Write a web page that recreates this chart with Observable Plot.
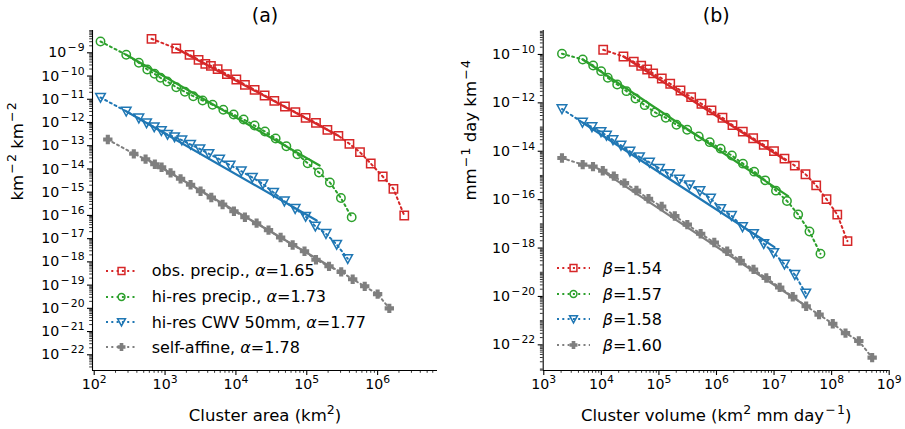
<!DOCTYPE html>
<html><head><meta charset="utf-8">
<script src="https://cdn.jsdelivr.net/npm/d3@7"></script>
<script src="https://cdn.jsdelivr.net/npm/@observablehq/plot@0.6"></script>
<style>
body{margin:0;background:#fff;}
#wrap{position:relative;width:905px;height:429px;font-family:"DejaVu Sans",sans-serif;color:#000;}
.lrow{position:absolute;display:flex;align-items:center;height:20px;white-space:nowrap;font-size:16px;}
</style></head><body><div id="wrap"></div>
<script>
// ---------- DATA (log10 of the values) ----------
const seriesNames = ["obs. precip.", "hi-res precip.", "hi-res CWV 50mm", "self-affine"];
const alphaValues = ["1.65", "1.73", "1.77", "1.78"];
const betaValues  = ["1.54", "1.57", "1.58", "1.60"];

// Panel (a): cluster area (km²) -> log10, density (km⁻² km⁻²) -> log10
const obsAreaLog   = [2.809,3.158,3.346,3.473,3.568,3.647,3.742,3.873,4.006,4.127,4.264,4.405,4.542,4.692,4.839,4.984,5.130,5.291,5.446,5.602,5.751,5.903,6.072,6.223,6.376];
const obsDensLog   = [-8.397,-8.815,-9.086,-9.301,-9.474,-9.560,-9.706,-9.921,-10.149,-10.378,-10.593,-10.838,-11.066,-11.312,-11.557,-11.798,-12.013,-12.315,-12.573,-12.917,-13.279,-13.765,-14.325,-14.854,-16.004];
const hiresAreaLog = [2.089,2.452,2.630,2.749,2.852,2.936,3.031,3.158,3.280,3.398,3.530,3.671,3.822,3.968,4.109,4.264,4.410,4.561,4.712,4.867,5.013,5.172,5.326,5.482,5.634];
const hiresDensLog = [-8.514,-9.086,-9.430,-9.719,-9.904,-10.076,-10.235,-10.481,-10.679,-10.868,-11.053,-11.239,-11.454,-11.656,-11.871,-12.130,-12.388,-12.689,-13.021,-13.365,-13.752,-14.153,-14.583,-15.251,-16.077];
const cwvAreaLog   = [2.089,2.452,2.630,2.739,2.847,2.948,3.035,3.134,3.237,3.360,3.492,3.619,3.770,3.918,4.076,4.232,4.381,4.532,4.684,4.836,4.984,5.121,5.271,5.422,5.578];
const cwvDensLog   = [-10.924,-11.518,-11.815,-12.022,-12.194,-12.358,-12.517,-12.625,-12.762,-12.947,-13.141,-13.348,-13.585,-13.839,-14.097,-14.368,-14.648,-15.014,-15.388,-15.711,-16.047,-16.465,-16.787,-17.252,-17.864];
const selfAreaLog  = [2.192,2.559,2.725,2.856,2.951,3.078,3.219,3.360,3.501,3.653,3.812,3.972,4.127,4.292,4.460,4.631,4.801,4.968,5.130,5.314,5.486,5.648,5.818,6.000,6.165];
const selfDensLog  = [-12.732,-13.348,-13.580,-13.796,-13.925,-14.166,-14.424,-14.682,-14.958,-15.229,-15.530,-15.819,-16.077,-16.335,-16.632,-16.951,-17.274,-17.541,-17.907,-18.191,-18.428,-18.750,-19.052,-19.387,-20.000];
// fitted power laws, panel (a): start/end (log10)
const fitX0A = [3.158, 2.452, 2.456, 2.725];
const fitY0A = [-8.815, -9.086, -11.527, -13.550];
const fitX1A = [5.446, 5.182, 5.140, 5.380];
const fitY1A = [-12.573, -13.851, -16.219, -18.285];

// Panel (b): cluster volume (km² mm day⁻¹) -> log10, density (mm⁻¹ day km⁻⁴) -> log10
const obsVolLog    = [4.032,4.384,4.563,4.692,4.796,4.900,5.050,5.196,5.375,5.560,5.739,5.913,6.104,6.278,6.457,6.637,6.821,6.999,7.181,7.360,7.546,7.732,7.911,8.098,8.275];
const obsVDensLog  = [-9.806,-10.083,-10.302,-10.467,-10.620,-10.785,-10.992,-11.211,-11.488,-11.764,-12.037,-12.314,-12.616,-12.921,-13.190,-13.463,-13.736,-13.996,-14.306,-14.595,-14.950,-15.413,-15.979,-16.620,-17.715];
const hiresVolLog  = [3.316,3.677,3.858,3.997,4.112,4.275,4.437,4.593,4.754,4.935,5.119,5.305,5.491,5.692,5.883,6.073,6.267,6.460,6.655,6.846,7.033,7.224,7.419,7.615,7.806];
const hiresVDensLog= [-9.971,-10.207,-10.455,-10.690,-10.963,-11.240,-11.517,-11.818,-12.095,-12.397,-12.616,-12.905,-13.112,-13.388,-13.624,-13.893,-14.178,-14.512,-14.843,-15.202,-15.628,-16.054,-16.612,-17.314,-18.236];
const cwvVolLog    = [3.316,3.672,3.837,3.994,4.089,4.202,4.341,4.497,4.662,4.836,5.010,5.183,5.357,5.531,5.713,5.896,6.073,6.260,6.452,6.643,6.821,6.995,7.181,7.360,7.551];
const cwvVDensLog  = [-12.252,-12.810,-12.996,-13.202,-13.347,-13.533,-13.760,-14.008,-14.236,-14.463,-14.711,-14.938,-15.165,-15.393,-15.640,-15.950,-16.376,-16.661,-17.128,-17.409,-17.822,-18.194,-18.669,-19.099,-19.868];
const selfVolLog   = [3.316,3.676,3.855,4.025,4.216,4.402,4.610,4.819,5.048,5.276,5.493,5.725,5.962,6.186,6.412,6.643,6.865,7.098,7.325,7.558,7.782,8.020,8.241,8.472,8.704];
const selfVDensLog = [-14.277,-14.554,-14.636,-14.806,-15.029,-15.318,-15.620,-15.963,-16.281,-16.674,-17.033,-17.409,-17.769,-18.132,-18.525,-18.884,-19.236,-19.628,-20.012,-20.405,-20.752,-21.128,-21.517,-21.839,-22.529];
const fitX0B = [4.384, 3.677, 3.672, 4.020];
const fitY0B = [-10.083, -10.207, -12.810, -14.822];
const fitX1B = [7.198, 7.245, 7.007, 7.558];
const fitY1B = [-14.368, -15.855, -17.963, -20.401];

// axis ticks (exponents) and domains (log10)
const xTickExpA = [2, 3, 4, 5, 6];
const yTickExpA = [-9,-10,-11,-12,-13,-14,-15,-16,-17,-18,-19,-20,-21,-22];
const xTickExpB = [3, 4, 5, 6, 7, 8, 9];
const yTickExpB = [-10,-12,-14,-16,-18,-20,-22];
const xDomLogA = [1.976, 6.845], yDomLogA = [-22.676, -8.04];
const xDomLogB = [2.99, 9.0],    yDomLogB = [-23.06, -9.01];

// ---------- STYLE ----------
const colors = ["#d62728", "#2ca02c", "#1f77b4", "#7f7f7f"];
const triDown = { draw(ctx, size) { const r = Math.sqrt(size / Math.PI); const w = r * 1.12, h = r * 0.95;
  ctx.moveTo(-w, -h); ctx.lineTo(w, -h); ctx.lineTo(0, h * 1.15); ctx.closePath(); } };
const symbols = ["square", "circle", triDown, "cross"];
const radii = [4.7, 4.2, 4.3, 3.3];
const fills = ["none", "none", "none", colors[3]];

const supMap = {"0":"⁰","1":"¹","2":"²","3":"³","4":"⁴","5":"⁵","6":"⁶","7":"⁷","8":"⁸","9":"⁹","-":"⁻"};
const unsupMap = Object.fromEntries(Object.entries(supMap).map(([k, v]) => [v, k === "-" ? "−" : k]));
const powLabel = v => "10" + String(Math.round(Math.log10(v))).split("").map(c => supMap[c]).join("");

function table(xs, ys) { return xs.map((x, i) => ({x: 10 ** x, y: 10 ** ys[i]})); }
function minorTicks(dom, majorExp) {
  const out = [];
  for (let e = Math.floor(Math.log10(dom[0])); e <= Math.ceil(Math.log10(dom[1])); e++)
    for (let m = 1; m < 10; m++) {
      if (m === 1 && majorExp.includes(e)) continue;
      const v = m * Math.pow(10, e);
      if (v >= dom[0] && v <= dom[1]) out.push(v);
    }
  return out;
}

// render Unicode superscript runs as raised, smaller tspans (like mathtext)
function superscriptify(root) {
  const NS = "http://www.w3.org/2000/svg";
  root.querySelectorAll("text").forEach(t => {
    const s = t.textContent;
    if (![...s].some(c => c in unsupMap)) return;
    const fs = parseFloat(getComputedStyle(t).fontSize) || 14;
    const shift = +(fs * 0.42).toFixed(2);
    const supFs = (fs * 0.76).toFixed(2);
    const runs = [];
    for (const c of s) {
      const isSup = c in unsupMap;
      const ch = isSup ? unsupMap[c] : c;
      if (runs.length && runs[runs.length - 1].sup === isSup) runs[runs.length - 1].text += ch;
      else runs.push({sup: isSup, text: ch});
    }
    t.textContent = "";
    let raised = false;
    runs.forEach(r => {
      const parts = r.sup && r.text.startsWith("−") ? ["−", r.text.slice(1)] : [r.text];
      parts.forEach((p, k) => {
        if (!p) return;
        const ts = document.createElementNS(NS, "tspan");
        if (r.sup) {
          ts.setAttribute("font-size", supFs);
          if (k === 0) ts.setAttribute("dy", -shift);
          if (parts.length > 1) ts.setAttribute("dx", k === 0 ? 1.2 : 1.2);
          raised = true;
        } else if (raised) { ts.setAttribute("dy", shift); raised = false; }
        ts.textContent = p;
        t.appendChild(ts);
      });
    });
  });
}

function panel({series, fits, xTickExp, yTickExp, xDomLog, yDomLog, title, xLabel, yLabel, yLabelDx, width, marginLeft, marginRight}) {
  const xDom = xDomLog.map(v => 10 ** v), yDom = yDomLog.map(v => 10 ** v);
  const marks = [
    Plot.axisX({ticks: minorTicks(xDom, xTickExp), tickFormat: () => "", tickSize: 2.8, strokeWidth: 0.8, label: null}),
    Plot.axisY({ticks: minorTicks(yDom, yTickExp), tickFormat: () => "", tickSize: 2.8, strokeWidth: 0.8, label: null}),
    Plot.axisX({ticks: xTickExp.map(e => 10 ** e), tickFormat: powLabel, tickSize: 5, tickPadding: 3, strokeWidth: 1.1, fontSize: 14.2, label: null}),
    Plot.axisY({ticks: yTickExp.map(e => 10 ** e), tickFormat: powLabel, tickSize: 5, tickPadding: 3, strokeWidth: 1.1, fontSize: 14.2, label: null}),
    Plot.ruleX([xDom[0]], {stroke: "#000", strokeWidth: 1.1}),
    Plot.ruleY([yDom[0]], {stroke: "#000", strokeWidth: 1.1})
  ];
  series.forEach((data, i) => {
    marks.push(Plot.line(data, {x: "x", y: "y", stroke: colors[i], strokeWidth: 2, strokeDasharray: "2,3.3"}));
    marks.push(Plot.dot(data, {x: "x", y: "y", symbol: symbols[i], r: radii[i], stroke: colors[i], fill: fills[i], strokeWidth: 1.5}));
  });
  fits.forEach((data, i) => {
    marks.push(Plot.line(data, {x: "x", y: "y", stroke: colors[i], strokeWidth: 2.2}));
  });
  marks.push(Plot.text([title], {text: d => d, frameAnchor: "top", dy: -15, fontSize: 19, lineAnchor: "middle"}));
  marks.push(Plot.text([xLabel], {text: d => d, frameAnchor: "bottom", dy: 45, fontSize: 16.5, lineAnchor: "middle"}));
  marks.push(Plot.text([yLabel], {text: d => d, frameAnchor: "left", dx: yLabelDx, rotate: -90, fontSize: 16.5, lineAnchor: "middle"}));
  return Plot.plot({
    width, height: 429, marginTop: 30, marginBottom: 59, marginLeft, marginRight,
    style: {fontFamily: "DejaVu Sans", fontSize: "14px", color: "#000", background: "transparent", overflow: "visible"},
    x: {type: "log", domain: xDom},
    y: {type: "log", domain: yDom},
    marks
  });
}

const seriesA = [table(obsAreaLog, obsDensLog), table(hiresAreaLog, hiresDensLog), table(cwvAreaLog, cwvDensLog), table(selfAreaLog, selfDensLog)];
const fitsA = fitX0A.map((x0, i) => [{x: 10 ** x0, y: 10 ** fitY0A[i]}, {x: 10 ** fitX1A[i], y: 10 ** fitY1A[i]}]);
const seriesB = [table(obsVolLog, obsVDensLog), table(hiresVolLog, hiresVDensLog), table(cwvVolLog, cwvVDensLog), table(selfVolLog, selfVDensLog)];
const fitsB = fitX0B.map((x0, i) => [{x: 10 ** x0, y: 10 ** fitY0B[i]}, {x: 10 ** fitX1B[i], y: 10 ** fitY1B[i]}]);

const wrap = document.getElementById("wrap");
const pa = panel({series: seriesA, fits: fitsA, xTickExp: xTickExpA, yTickExp: yTickExpA, xDomLog: xDomLogA, yDomLog: yDomLogA,
  title: "(a)", xLabel: "Cluster area (km²)", yLabel: "km⁻² km⁻²", yLabelDx: -74.5, width: 452, marginLeft: 92, marginRight: 15});
const pb = panel({series: seriesB, fits: fitsB, xTickExp: xTickExpB, yTickExp: yTickExpB, xDomLog: xDomLogB, yDomLog: yDomLogB,
  title: "(b)", xLabel: "Cluster volume (km² mm day⁻¹)", yLabel: "mm⁻¹ day km⁻⁴", yLabelDx: -72, width: 453, marginLeft: 90.7, marginRight: 16.3});
[[pa, 0], [pb, 452]].forEach(([el, left]) => { el.style.position = "absolute"; el.style.left = left + "px"; el.style.top = "0px"; wrap.appendChild(el); superscriptify(el); });

// ---------- LEGENDS ----------
function legend(labels, rowCenters, swatchLeft, swatchWidth, textLeft) {
  labels.forEach((html, i) => {
    const row = document.createElement("div");
    row.className = "lrow";
    row.style.left = swatchLeft + "px";
    row.style.top = (rowCenters[i] - 10) + "px";
    const svg = d3.create("svg").attr("width", swatchWidth).attr("height", 20).style("overflow", "visible");
    svg.append("line").attr("x1", 0).attr("x2", swatchWidth).attr("y1", 10).attr("y2", 10)
      .attr("stroke", colors[i]).attr("stroke-width", 2).attr("stroke-dasharray", "2,3.3");
    const sym = typeof symbols[i] === "string" ? {square: d3.symbolSquare, circle: d3.symbolCircle, cross: d3.symbolCross}[symbols[i]] : symbols[i];
    const rr = radii[i] * 0.82;
    svg.append("path").attr("d", d3.symbol(sym, rr * rr * Math.PI)())
      .attr("transform", `translate(${swatchWidth / 2},10)`)
      .attr("fill", fills[i] === "none" ? "none" : colors[i]).attr("stroke", colors[i]).attr("stroke-width", 1.5);
    row.appendChild(svg.node());
    const span = document.createElement("span");
    span.style.marginLeft = (textLeft - swatchLeft - swatchWidth) + "px";
    span.innerHTML = html;
    row.appendChild(span);
    wrap.appendChild(row);
  });
}
legend(seriesNames.map((n, i) => `${n}, <i>α</i>=${alphaValues[i]}`), [270.7, 296.7, 322.3, 347.3], 106, 31, 151.7);
legend(betaValues.map(b => `<i>β</i>=${b}`), [268.3, 294, 319.3, 345], 557.3, 33, 602.7);
</script></body></html>
